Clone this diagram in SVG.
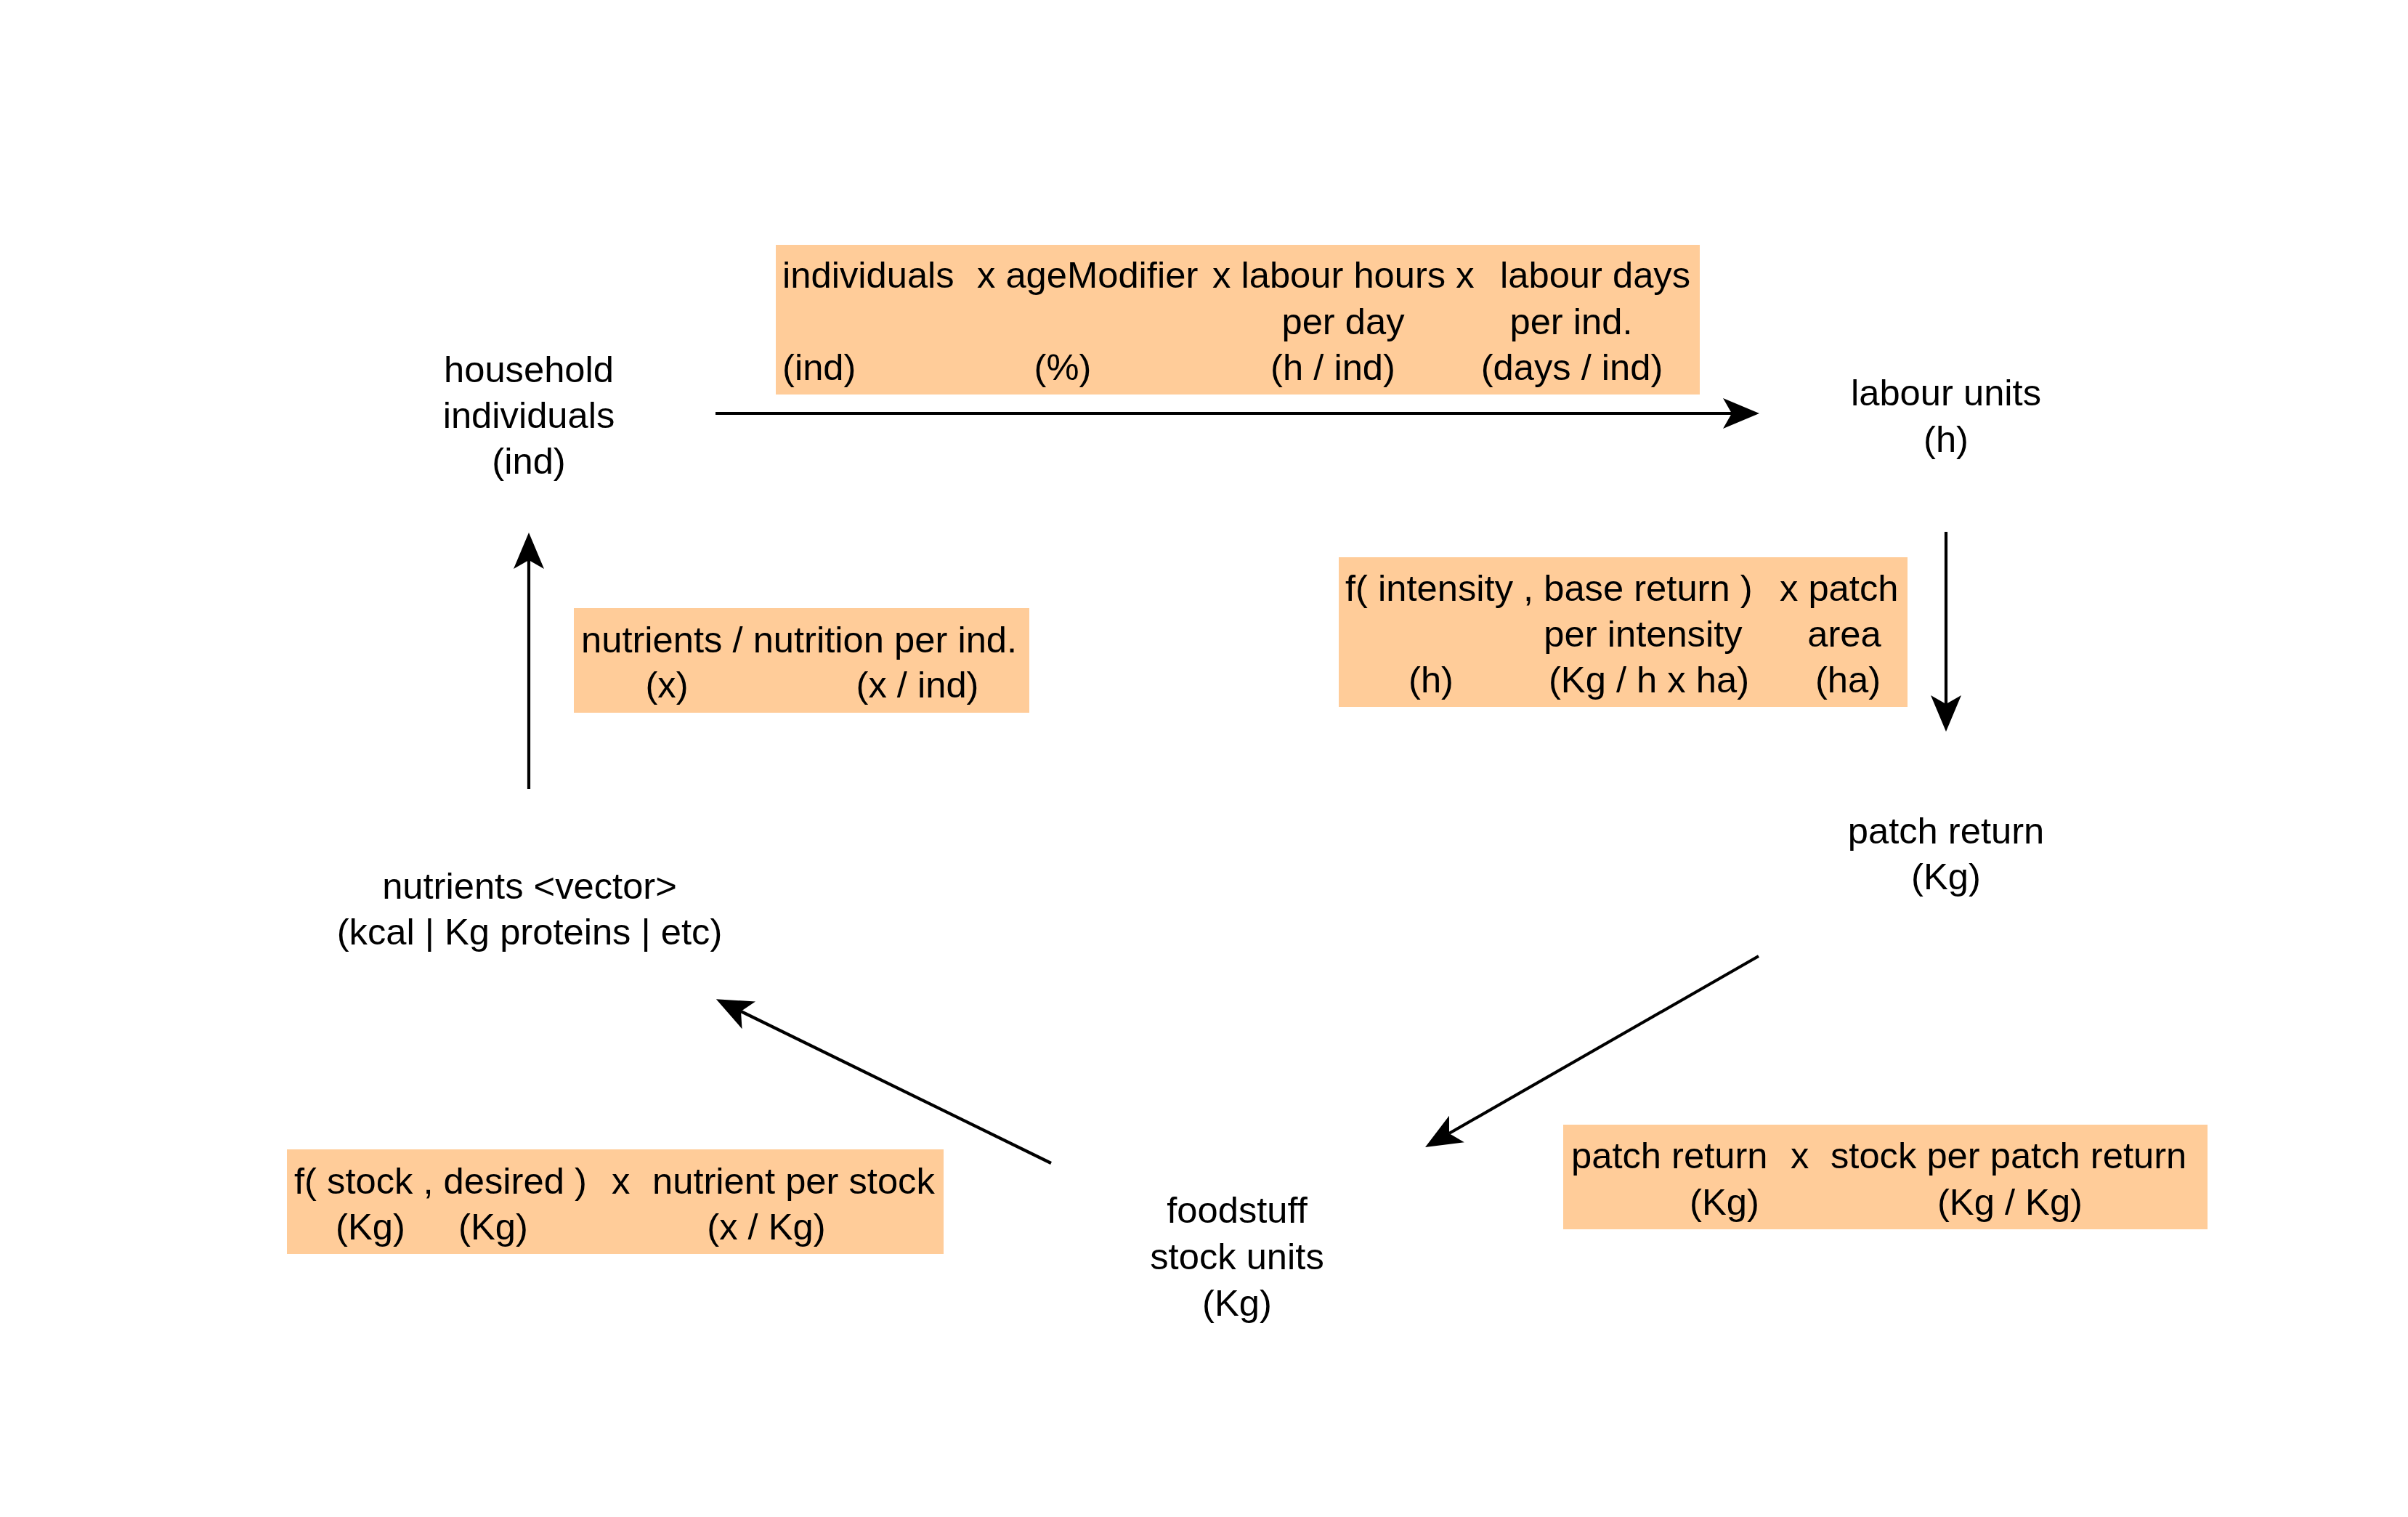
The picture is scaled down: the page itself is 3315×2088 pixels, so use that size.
<svg xmlns="http://www.w3.org/2000/svg" width="3315" height="2088" viewBox="0 0 3315 2088">
<style>
text { font-family: "Liberation Sans", Arial, sans-serif; font-size: 50.7px; fill: #000000; }
.m { text-anchor: middle; }
.box { fill: #FFCC99; stroke: none; }
.edge { stroke: #000000; stroke-width: 4.2; fill: none; }
</style>
<defs>
<marker id="arrow" markerUnits="userSpaceOnUse" viewBox="-14 -23 54 46" refX="0" refY="0" markerWidth="54" markerHeight="46" orient="auto" overflow="visible">
<path d="M38,0 L-12,-21 L0,0 L-12,21 Z" fill="#000000"/>
</marker>
</defs>
<rect width="3315" height="2088" fill="#FFFFFF"/>

<g id="connectors">
<line class="edge" x1="985" y1="569" x2="2384" y2="569" marker-end="url(#arrow)"/>
<line class="edge" x1="2679" y1="732" x2="2679" y2="969" marker-end="url(#arrow)"/>
<line class="edge" x1="2421" y1="1316" x2="1995" y2="1560" marker-end="url(#arrow)"/>
<line class="edge" x1="1447" y1="1601" x2="1020" y2="1392" marker-end="url(#arrow)"/>
<line class="edge" x1="728" y1="1086" x2="728" y2="771" marker-end="url(#arrow)"/>
</g>

<g id="household">
<text class="m" x="728" y="526">household</text>
<text class="m" x="728" y="589">individuals</text>
<text class="m" x="728" y="652">(ind)</text>
</g>

<g id="labour-units">
<text class="m" x="2679" y="558">labour units</text>
<text class="m" x="2679" y="622">(h)</text>
</g>

<g id="patch-return">
<text class="m" x="2679" y="1161">patch return</text>
<text class="m" x="2679" y="1224">(Kg)</text>
</g>

<g id="nutrients">
<text class="m" x="729" y="1237">nutrients &lt;vector&gt;</text>
<text class="m" x="729" y="1300">(kcal | Kg proteins | etc)</text>
</g>

<g id="foodstuff">
<text class="m" x="1703" y="1683">foodstuff</text>
<text class="m" x="1703" y="1747">stock units</text>
<text class="m" x="1703" y="1811">(Kg)</text>
</g>

<g id="formula-labour">
<rect class="box" x="1068" y="337" width="1272" height="206"/>
<text x="1077" y="396">individuals</text>
<text x="1345" y="396">x ageModifier</text>
<text x="1669" y="396">x labour hours x</text>
<text x="2065" y="396">labour days</text>
<text class="m" x="1849" y="460">per day</text>
<text class="m" x="2163" y="460">per ind.</text>
<text x="1077" y="523">(ind)</text>
<text class="m" x="1463" y="523">(%)</text>
<text class="m" x="1835" y="523">(h / ind)</text>
<text class="m" x="2164" y="523">(days / ind)</text>
</g>

<g id="formula-patch">
<rect class="box" x="1843" y="767" width="783" height="206"/>
<text x="1852" y="827">f( intensity , base return )</text>
<text x="2450" y="827">x patch</text>
<text class="m" x="2262" y="890">per intensity</text>
<text class="m" x="2539" y="890">area</text>
<text class="m" x="1970" y="953">(h)</text>
<text class="m" x="2270" y="953">(Kg / h x ha)</text>
<text class="m" x="2544" y="953">(ha)</text>
</g>

<g id="formula-nutrition">
<rect class="box" x="790" y="837" width="627" height="144"/>
<text x="800" y="898">nutrients / nutrition per ind.</text>
<text class="m" x="918" y="960">(x)</text>
<text class="m" x="1263" y="960">(x / ind)</text>
</g>

<g id="formula-stock">
<rect class="box" x="2152" y="1548" width="887" height="144"/>
<text x="2163" y="1608">patch return</text>
<text x="2465" y="1608">x</text>
<text x="2520" y="1608">stock per patch return</text>
<text class="m" x="2374" y="1672">(Kg)</text>
<text class="m" x="2767" y="1672">(Kg / Kg)</text>
</g>

<g id="formula-nutrient">
<rect class="box" x="395" y="1582" width="904" height="144"/>
<text x="405" y="1643">f( stock , desired )</text>
<text x="842" y="1643">x</text>
<text x="898" y="1643">nutrient per stock</text>
<text class="m" x="510" y="1706">(Kg)</text>
<text class="m" x="679" y="1706">(Kg)</text>
<text class="m" x="1055" y="1706">(x / Kg)</text>
</g>
</svg>
